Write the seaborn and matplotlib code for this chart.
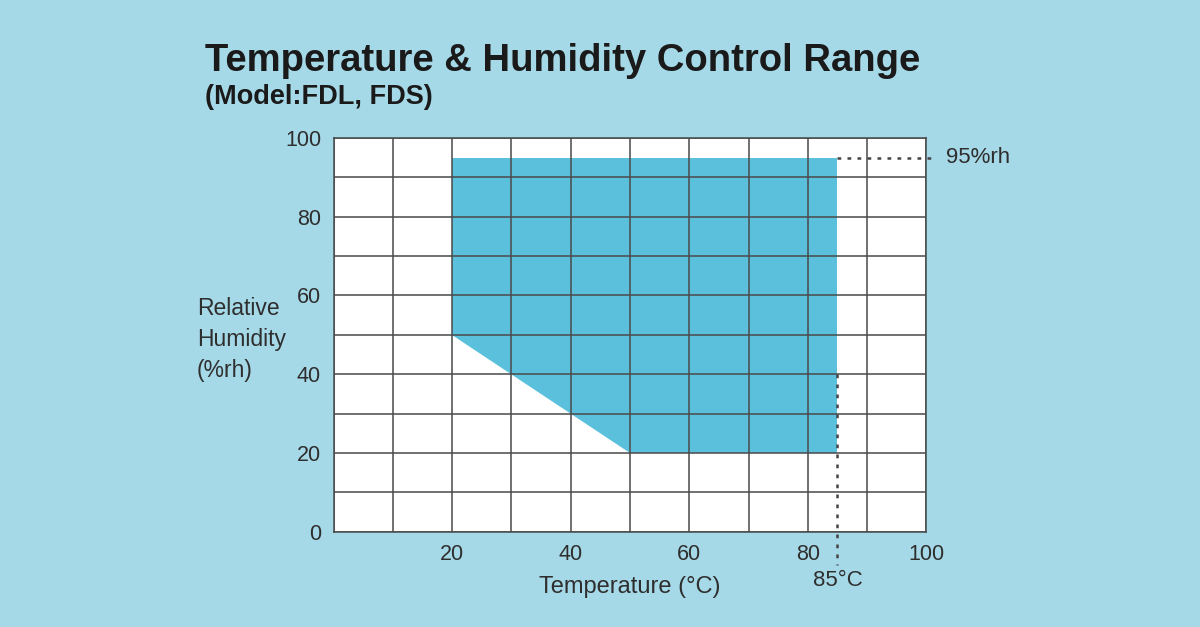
import matplotlib
matplotlib.use("Agg")
import matplotlib.pyplot as plt
import numpy as np
import pandas as pd
import seaborn as sns

# control range boundary (temperature °C, humidity %rh)
range_temp = [20, 20, 85, 85, 50]
range_rh = [50, 95, 95, 20, 20]

# limit markers
max_temp = 85
max_rh = 95

x_ticks = [20, 40, 60, 80, 100]
y_ticks = [0, 20, 40, 60, 80, 100]

bg = '#a6d9e7'
fill_c = '#5bc0dc'
grid_c = '#4a4a4a'
text_c = '#2e2e2e'

sns.set_theme(style="white")
plt.rcParams['font.family'] = ['Liberation Sans', 'DejaVu Sans']

fig = plt.figure(figsize=(12, 6.27), dpi=100, facecolor=bg)
ax = fig.add_axes([0.278, 0.152, 0.494, 0.628])
ax.set_facecolor('white')

df = pd.DataFrame({'temp': range_temp, 'rh': range_rh})
ax.fill(df['temp'], df['rh'], color=fill_c, zorder=1, lw=0)

ax.set_xlim(0, 100)
ax.set_ylim(0, 100)
ax.set_xticks(np.arange(0, 101, 10))
ax.set_yticks(np.arange(0, 101, 10))
ax.grid(True, color=grid_c, lw=1.3, alpha=0.85, zorder=2)
ax.set_axisbelow(False)
for s in ax.spines.values():
    s.set_color(grid_c)
    s.set_linewidth(1.3)
    s.set_alpha(0.85)

ax.set_xticklabels(['' if v not in x_ticks else str(v) for v in range(0, 101, 10)])
ax.set_yticklabels(['' if v not in y_ticks else str(v) for v in range(0, 101, 10)])
ax.tick_params(axis='both', length=0, labelsize=15.5, colors=text_c)
ax.tick_params(axis='x', pad=9)
ax.tick_params(axis='y', pad=9)

# dotted limit lines
ax.plot([max_temp, 101.5], [max_rh, max_rh], color='#444444',
        lw=1.8, linestyle=(0, (1.5, 2.5)), clip_on=False, zorder=3)
ax.plot([max_temp, max_temp], [40, -8.5], color='#444444',
        lw=1.8, linestyle=(0, (1.5, 2.5)), clip_on=False, zorder=3)

ax.text(103.3, max_rh, f'{max_rh}%rh', ha='left', va='center',
        fontsize=16, color=text_c)
ax.text(max_temp, -12.3, f'{max_temp}°C', ha='center', va='center',
        fontsize=16, color=text_c)

ax.set_xlabel('Temperature (°C)', fontsize=17, color=text_c, labelpad=8)
ax.set_ylabel('')
fig.text(0.164, 0.458, 'Relative\nHumidity\n(%rh)', ha='left', va='center',
         fontsize=16.5, color=text_c, linespacing=1.45)

fig.text(0.171, 0.903, 'Temperature & Humidity Control Range', ha='left',
         va='center', fontsize=27.5, fontweight='bold', color='#1a1a1a')
fig.text(0.171, 0.846, '(Model:FDL, FDS)', ha='left', va='center',
         fontsize=19.5, fontweight='bold', color='#1a1a1a')

fig.savefig('out.png', dpi=100, facecolor=bg)
